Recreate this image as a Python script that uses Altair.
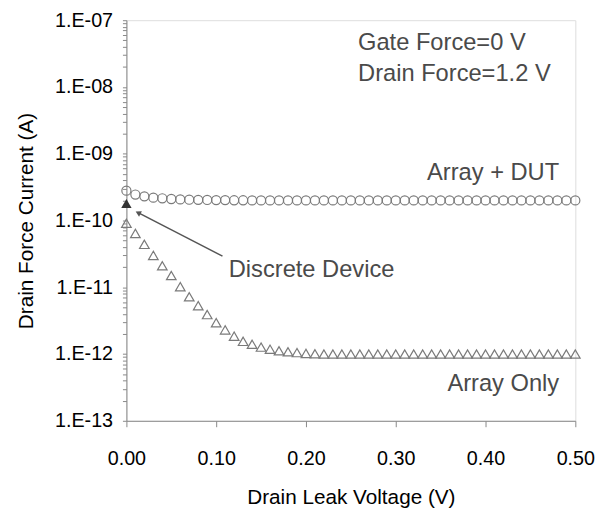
import altair as alt
import pandas as pd

voltage = [0.00, 0.01, 0.02, 0.03, 0.04, 0.05, 0.06, 0.07, 0.08, 0.09,
           0.10, 0.11, 0.12, 0.13, 0.14, 0.15, 0.16, 0.17, 0.18, 0.19,
           0.20, 0.21, 0.22, 0.23, 0.24, 0.25, 0.26, 0.27, 0.28, 0.29,
           0.30, 0.31, 0.32, 0.33, 0.34, 0.35, 0.36, 0.37, 0.38, 0.39,
           0.40, 0.41, 0.42, 0.43, 0.44, 0.45, 0.46, 0.47, 0.48, 0.49, 0.50]

array_dut = [2.8e-10, 2.45e-10, 2.3e-10, 2.2e-10, 2.15e-10, 2.1e-10, 2.07e-10, 2.05e-10, 2.04e-10, 2.03e-10,
             2.02e-10, 2.02e-10, 2.01e-10, 2.01e-10, 2.0e-10, 2.0e-10, 2.0e-10, 2.0e-10, 2.0e-10, 2.0e-10,
             2.0e-10, 2.0e-10, 2.0e-10, 2.0e-10, 2.0e-10, 2.0e-10, 2.0e-10, 2.0e-10, 2.0e-10, 2.0e-10,
             2.0e-10, 2.0e-10, 2.0e-10, 2.0e-10, 2.0e-10, 2.0e-10, 2.0e-10, 2.0e-10, 2.0e-10, 2.0e-10,
             2.0e-10, 2.0e-10, 2.0e-10, 2.0e-10, 2.0e-10, 2.0e-10, 2.0e-10, 2.0e-10, 2.0e-10, 2.0e-10, 2.0e-10]

array_only = [9.1e-11, 6.4e-11, 4.4e-11, 3.0e-11, 2.1e-11, 1.5e-11, 1.02e-11, 7.2e-12, 5.3e-12, 3.9e-12,
              2.95e-12, 2.3e-12, 1.85e-12, 1.55e-12, 1.4e-12, 1.27e-12, 1.18e-12, 1.12e-12, 1.08e-12, 1.05e-12,
              1.02e-12, 1.01e-12, 1.0e-12, 1.0e-12, 1.0e-12, 1.0e-12, 1.0e-12, 1.0e-12, 1.0e-12, 1.0e-12,
              1.0e-12, 1.0e-12, 1.0e-12, 1.0e-12, 1.0e-12, 1.0e-12, 1.0e-12, 1.0e-12, 1.0e-12, 1.0e-12,
              1.0e-12, 1.0e-12, 1.0e-12, 1.0e-12, 1.0e-12, 1.0e-12, 1.0e-12, 1.0e-12, 1.0e-12, 1.0e-12, 1.0e-12]

discrete_x = [0.0]
discrete_y = [1.8e-10]

decades = [1e-13, 1e-12, 1e-11, 1e-10, 1e-9, 1e-8, 1e-7]
x_ticks = [0.0, 0.1, 0.2, 0.3, 0.4, 0.5]

# annotation arrow (data coordinates)
arrow_x = [0.013, 0.107]
arrow_y = [1.31e-10, 2.93e-11]

# annotation texts
labels_left = ["Gate Force=0 V", "Drain Force=1.2 V", "Discrete Device"]
labels_left_x = [0.258, 0.258, 0.114]
labels_left_y = [4.6e-8, 1.55e-8, 1.8e-11]
labels_right = ["Array + DUT", "Array Only"]
labels_right_x = [0.482, 0.482]
labels_right_y = [5.1e-10, 3.6e-13]

minor_vals = [m * d for d in decades[:-1] for m in range(1, 10)] + [decades[-1]]

FONT = "Liberation Sans"
TXT = "#4a4a4a"
MK = "#7a7a7a"

xs = alt.Scale(domain=[0, 0.5], nice=False)
ys = alt.Scale(type="log", domain=[1e-13, 1e-7], nice=False)

df_dut = pd.DataFrame({"x": voltage, "y": array_dut})
df_only = pd.DataFrame({"x": voltage, "y": array_only})
df_disc = pd.DataFrame({"x": discrete_x, "y": discrete_y})
df_arrow = pd.DataFrame({"x": arrow_x, "y": arrow_y})
df_head = pd.DataFrame({"x": arrow_x[:1], "y": arrow_y[:1]})
df_tl = pd.DataFrame({"t": labels_left, "x": labels_left_x, "y": labels_left_y})
df_tr = pd.DataFrame({"t": labels_right, "x": labels_right_x, "y": labels_right_y})

LE = ("abs(log(datum.value)/LN10 - round(log(datum.value)/LN10)) < 0.001 ? "
      "'1.E-' + (abs(round(log(datum.value)/LN10)) < 10 ? '0' : '') + abs(round(log(datum.value)/LN10)) : ''")

xenc = alt.X("x:Q", scale=xs, axis=alt.Axis(
    title="Drain Leak Voltage (V)", values=x_ticks, format=".2f",
    labelFontSize=20, titleFontSize=21, labelPadding=22, titlePadding=19,
    tickSize=6, grid=False, labelFlush=False, titleFontWeight="normal"))
yenc = alt.Y("y:Q", scale=ys, axis=alt.Axis(
    title="Drain Force Current (A)", values=minor_vals, labelExpr=LE,
    labelFontSize=20, titleFontSize=21, labelPadding=10, titlePadding=18,
    tickSize=4, grid=False, labelOverlap=False, labelFlush=False,
    titleFontWeight="normal"))

circles = alt.Chart(df_dut).mark_point(shape="circle", filled=False, size=85,
                                        stroke=MK, strokeWidth=1.2, opacity=1).encode(x=xenc, y=yenc)
tris = alt.Chart(df_only).mark_point(shape="triangle-up", filled=False, size=95,
                                      stroke=MK, strokeWidth=1.2, opacity=1).encode(x="x:Q", y="y:Q")
disc = alt.Chart(df_disc).mark_point(shape="triangle-up", filled=True, size=110,
                                      color="#333333", opacity=1).encode(x="x:Q", y="y:Q")
arrow = alt.Chart(df_arrow).mark_line(color="#555555", strokeWidth=1.5).encode(x="x:Q", y="y:Q")
head = alt.Chart(df_head).mark_point(shape="triangle-up", filled=True, size=40, angle=297,
                                      color="#555555", opacity=1).encode(x="x:Q", y="y:Q")
tl = alt.Chart(df_tl).mark_text(align="left", baseline="middle", font=FONT, fontSize=24,
                                 color=TXT).encode(x="x:Q", y="y:Q", text="t:N")
tr = alt.Chart(df_tr).mark_text(align="right", baseline="middle", font=FONT, fontSize=24,
                                 color=TXT).encode(x="x:Q", y="y:Q", text="t:N")

chart = alt.layer(circles, tris, disc, arrow, head, tl, tr).properties(
    width=455, height=406,
    autosize=alt.AutoSizeParams(type="none"),
    padding={"left": 120, "top": 9, "right": 24, "bottom": 85},
).configure_view(stroke="#9a9a9a", strokeWidth=1.2).configure_axis(
    labelFont=FONT, titleFont=FONT, labelColor=TXT, titleColor=TXT,
    titleFontWeight="normal", domainColor="#9a9a9a", tickColor="#9a9a9a",
    domainWidth=1.2,
).configure(background="white")

chart.save("out.html", embed_options={"renderer": "svg", "actions": False})
